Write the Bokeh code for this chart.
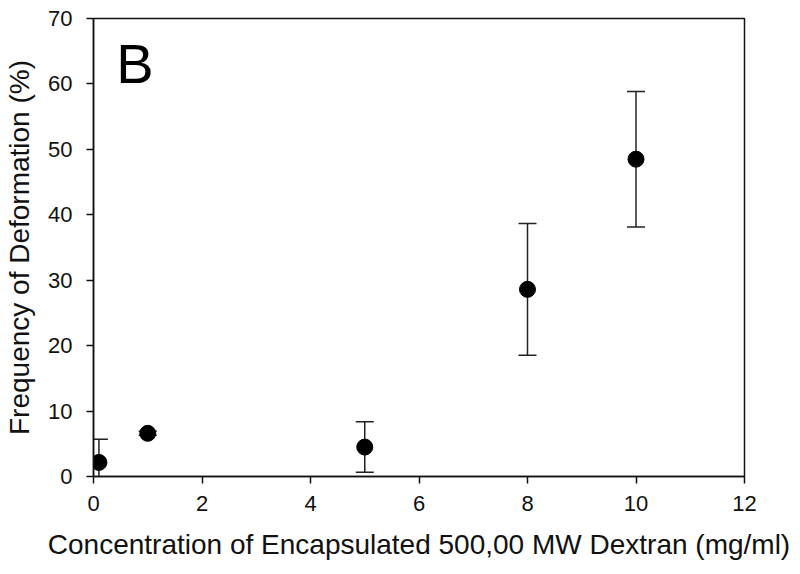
from bokeh.plotting import figure
from bokeh.models import ColumnDataSource, Whisker, TeeHead, Range1d, FixedTicker, Label
from bokeh.embed import file_html
from bokeh.resources import INLINE

# Data
conc = [0.1, 1.0, 5.0, 8.0, 10.0]
freq = [2.15, 6.6, 4.5, 28.6, 48.5]
err = [3.55, 0.3, 3.85, 10.05, 10.35]

x_ticks = [0, 2, 4, 6, 8, 10, 12]
y_ticks = [0, 10, 20, 30, 40, 50, 60, 70]

FONT = "Liberation Sans"

src = ColumnDataSource(dict(
    x=conc, y=freq,
    lo=[v - e for v, e in zip(freq, err)],
    hi=[v + e for v, e in zip(freq, err)],
))

p = figure(width=790, height=566, output_backend="svg", toolbar_location=None,
           x_range=Range1d(0, 12), y_range=Range1d(0, 70),
           min_border_left=93, min_border_right=46, min_border_top=18, min_border_bottom=90)

p.grid.visible = False
p.outline_line_color = "#111111"
p.outline_line_width = 1.5

for ax in (p.xaxis[0], p.yaxis[0]):
    ax.major_tick_out = 7
    ax.major_tick_in = 0
    ax.minor_tick_line_color = None
    ax.axis_line_color = "#111111"
    ax.axis_line_width = 1.5
    ax.major_tick_line_color = "#111111"
    ax.major_tick_line_width = 1.5
    ax.major_label_text_font = FONT
    ax.major_label_text_color = "#111111"
    ax.major_label_text_font_size = "22px"
    ax.axis_label_text_font = FONT
    ax.axis_label_text_font_style = "normal"
    ax.axis_label_text_color = "#111111"
    ax.axis_label_text_font_size = "28px"

p.xaxis.ticker = FixedTicker(ticks=x_ticks)
p.yaxis.ticker = FixedTicker(ticks=y_ticks)
p.xaxis.major_label_standoff = 12
p.yaxis.major_label_standoff = 14
p.xaxis.axis_label = "Concentration of Encapsulated 500,00 MW Dextran (mg/ml)"
p.yaxis.axis_label = "Frequency of Deformation (%)"
p.xaxis.axis_label_standoff = 15
p.yaxis.axis_label_standoff = 10

w = Whisker(source=src, base="x", upper="hi", lower="lo", dimension="height",
            line_color="#222222", line_width=1.5,
            upper_head=TeeHead(size=18, line_color="#222222", line_width=1.5),
            lower_head=TeeHead(size=18, line_color="#222222", line_width=1.5))
p.add_layout(w)

p.scatter("x", "y", source=src, size=16, fill_color="black", line_color="black")

p.add_layout(Label(x=0.42, y=68.0, text="B", text_font=FONT, text_font_size="56px",
                   text_baseline="top", text_color="black"))

open("out.html", "w").write(file_html(p, INLINE))
